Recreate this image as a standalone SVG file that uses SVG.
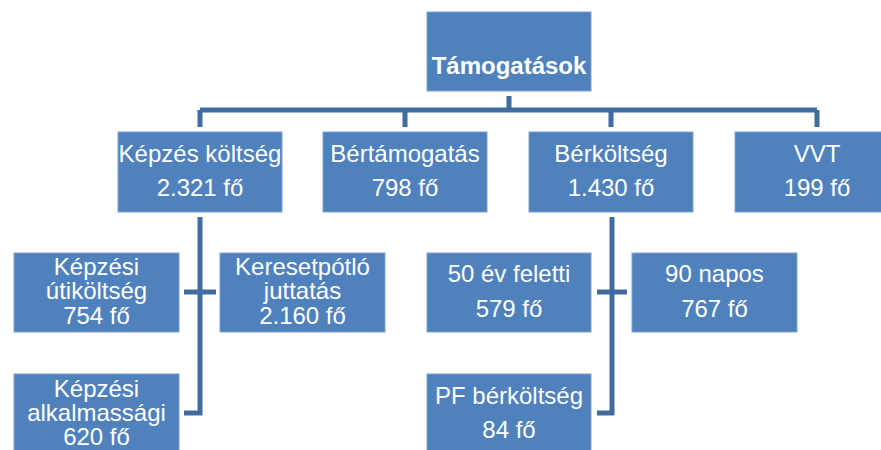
<svg xmlns="http://www.w3.org/2000/svg" width="881" height="450" viewBox="0 0 881 450">
<style>
.box{fill:#4F81BD;stroke:#7FA2D2;stroke-width:1}
.t{font-family:"Liberation Sans",Arial,sans-serif;font-size:24px;fill:#FFFFFF;text-anchor:middle}
.b{font-weight:bold}
.c{fill:none;stroke:#3F6B9F;stroke-width:5;stroke-linejoin:miter;stroke-linecap:butt}
</style>
<rect width="881" height="450" fill="#FFFFFF"/>
<g id="connectors">
<path class="c" d="M509,96 V110 M200,110 H817 M200,110 V127 M405,110 V127 M611,110 V127 M817,110 V127"/>
<path class="c" d="M200,217 V415 M184,292 H216 M184,413 H202"/>
<path class="c" d="M612,217 V415 M597,292 H627 M597,413 H614"/>
</g>
<g id="tamogatasok">
<rect class="box" x="427" y="12" width="164" height="79"/>
<text class="t b" x="509" y="74">Támogatások</text>
</g>
<g id="kepzes-koltseg">
<rect class="box" x="118" y="132" width="164" height="80"/>
<text class="t" x="200" y="162">Képzés költség</text>
<text class="t" x="200" y="196">2.321 fő</text>
</g>
<g id="bertamogatas">
<rect class="box" x="323" y="132" width="164" height="80"/>
<text class="t" x="405" y="162">Bértámogatás</text>
<text class="t" x="405" y="196">798 fő</text>
</g>
<g id="berkoltseg">
<rect class="box" x="529" y="132" width="164" height="80"/>
<text class="t" x="611" y="162">Bérköltség</text>
<text class="t" x="611" y="196">1.430 fő</text>
</g>
<g id="vvt">
<rect class="box" x="735" y="132" width="164" height="80"/>
<text class="t" x="817" y="162">VVT</text>
<text class="t" x="817" y="196">199 fő</text>
</g>
<g id="kepzesi-utikoltseg">
<rect class="box" x="14" y="253" width="165" height="79"/>
<text class="t" x="96.5" y="275">Képzési</text>
<text class="t" x="96.5" y="299">útiköltség</text>
<text class="t" x="96.5" y="324">754 fő</text>
</g>
<g id="keresetpotlo">
<rect class="box" x="220" y="253" width="165" height="79"/>
<text class="t" x="302.5" y="275">Keresetpótló</text>
<text class="t" x="302.5" y="299">juttatás</text>
<text class="t" x="302.5" y="324">2.160 fő</text>
</g>
<g id="kepzesi-alkalmassagi">
<rect class="box" x="14" y="374" width="165" height="79"/>
<text class="t" x="96.5" y="397">Képzési</text>
<text class="t" x="96.5" y="421">alkalmassági</text>
<text class="t" x="96.5" y="445">620 fő</text>
</g>
<g id="50-ev-feletti">
<rect class="box" x="427" y="253" width="164" height="79"/>
<text class="t" x="509" y="282">50 év feletti</text>
<text class="t" x="509" y="317">579 fő</text>
</g>
<g id="90-napos">
<rect class="box" x="632" y="253" width="165" height="79"/>
<text class="t" x="714.5" y="282">90 napos</text>
<text class="t" x="714.5" y="317">767 fő</text>
</g>
<g id="pf-berkoltseg">
<rect class="box" x="427" y="374" width="164" height="79"/>
<text class="t" x="509" y="404">PF bérköltség</text>
<text class="t" x="509" y="438">84 fő</text>
</g>
</svg>
